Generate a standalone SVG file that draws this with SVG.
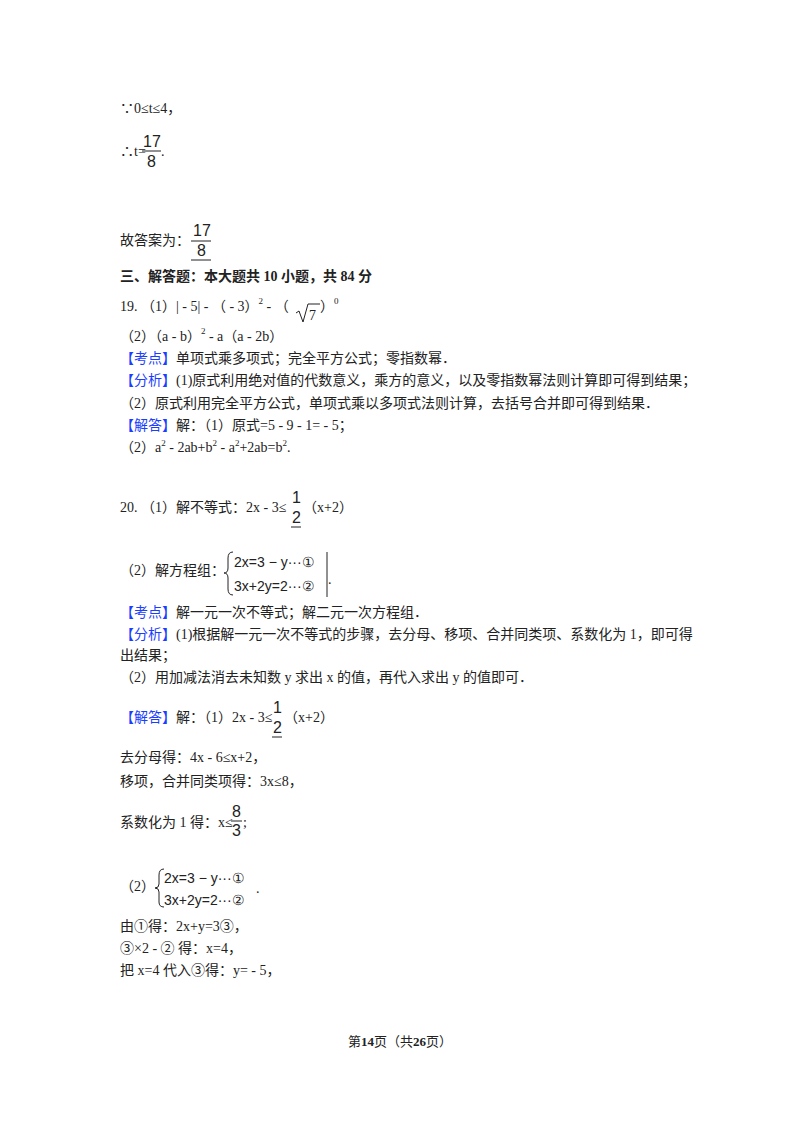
<svg xmlns="http://www.w3.org/2000/svg" width="800" height="1132" viewBox="0 0 800 1132">
<style>
text{font-family:"Liberation Serif","Noto Sans CJK SC",serif;font-size:14px;fill:#222}
.b{font-weight:bold}
.k{fill:#1a3dff}
.s{font-size:9px}
.f{font-size:16px;font-family:"Liberation Sans","Noto Sans CJK SC",sans-serif}
.e{font-family:"Liberation Sans",sans-serif;font-size:14px}
line,path{stroke:#222;fill:none}
</style>
<rect width="800" height="1132" fill="#fff"/>
<g id="top">
<text x="120" y="113">∵0≤t≤4，</text>
<text x="120" y="156">∴t=</text>
<text class="f" x="143" y="147">17</text>
<line x1="142" y1="151" x2="161" y2="151"/>
<text class="f" x="147" y="167">8</text>
<text x="161" y="156">.</text>
<text x="120" y="245">故答案为：</text>
<text class="f" x="193" y="236">17</text>
<line x1="191" y1="241" x2="211" y2="241"/>
<text class="f" x="197" y="256">8</text>
<line x1="191" y1="260" x2="211" y2="260"/>
</g>
<g id="q19">
<text class="b" x="120" y="281">三、解答题：本大题共 10 小题，共 84 分</text>
<text x="120" y="311">19. （1）| - 5| - （ - 3）<tspan class="s" dy="-7">2</tspan><tspan dy="7"> - （</tspan></text>
<path d="M296 313 L299 311 L303 322 L308 304 L320 304"/>
<text x="309" y="320">7</text>
<text x="320" y="311">）<tspan class="s" dy="-7">0</tspan></text>
<text x="120" y="341">（2）（a - b）<tspan class="s" dy="-7">2</tspan><tspan dy="7"> - a（a - 2b）</tspan></text>
<text x="120" y="363"><tspan class="k">【考点】</tspan>单项式乘多项式；完全平方公式；零指数幂．</text>
<text x="120" y="385"><tspan class="k">【分析】</tspan>(1)原式利用绝对值的代数意义，乘方的意义，以及零指数幂法则计算即可得到结果；</text>
<text x="120" y="408">（2）原式利用完全平方公式，单项式乘以多项式法则计算，去括号合并即可得到结果．</text>
<text x="120" y="430"><tspan class="k">【解答】</tspan>解：（1）原式=5 - 9 - 1= - 5；</text>
<text x="120" y="452">（2）a<tspan class="s" dy="-6">2</tspan><tspan dy="6"> - 2ab+b</tspan><tspan class="s" dy="-6">2</tspan><tspan dy="6"> - a</tspan><tspan class="s" dy="-6">2</tspan><tspan dy="6">+2ab=b</tspan><tspan class="s" dy="-6">2</tspan><tspan dy="6">.</tspan></text>
</g>
<g id="q20">
<text x="120" y="512">20. （1）解不等式：2x - 3≤</text>
<text class="f" x="292" y="503">1</text>
<text class="f" x="292" y="523">2</text>
<line x1="291" y1="527" x2="301" y2="527"/>
<text x="303" y="512">（x+2）</text>
<text x="120" y="575">（2）解方程组：</text>
<path d="M233 552 Q228 552 228 558 L228 568 Q228 573 224 573 Q228 573 228 578 L228 589 Q228 595 233 595"/>
<text class="e" x="234" y="567">2x=3 − y···①</text>
<text class="e" x="234" y="591">3x+2y=2···②</text>
<line x1="327" y1="552" x2="327" y2="597"/>
<text x="328" y="584">.</text>
<text x="120" y="617"><tspan class="k">【考点】</tspan>解一元一次不等式；解二元一次方程组．</text>
<text x="120" y="639"><tspan class="k">【分析】</tspan>(1)根据解一元一次不等式的步骤，去分母、移项、合并同类项、系数化为 1，即可得</text>
<text x="120" y="660">出结果；</text>
<text x="120" y="682">（2）用加减法消去未知数 y 求出 x 的值，再代入求出 y 的值即可．</text>
<text x="120" y="722"><tspan class="k">【解答】</tspan>解：（1）2x - 3≤</text>
<text class="f" x="273" y="713">1</text>
<text class="f" x="273" y="733">2</text>
<line x1="272" y1="737" x2="282" y2="737"/>
<text x="284" y="722">（x+2）</text>
<text x="120" y="762">去分母得：4x - 6≤x+2，</text>
<text x="120" y="786">移项，合并同类项得：3x≤8，</text>
<text x="120" y="827">系数化为 1 得：x≤</text>
<text class="f" x="232" y="817">8</text>
<line x1="231" y1="821" x2="242" y2="821"/>
<text class="f" x="232" y="836">3</text>
<text x="243" y="827">;</text>
<text x="120" y="891">（2）</text>
<path d="M164 869 Q159 869 159 875 L159 884 Q159 888 155 888 Q159 888 159 892 L159 902 Q159 907 164 907"/>
<text class="e" x="164" y="883">2x=3 − y···①</text>
<text class="e" x="164" y="905">3x+2y=2···②</text>
<text x="256" y="893">.</text>
<text x="120" y="931">由①得：2x+y=3③，</text>
<text x="120" y="953">③×2 - ② 得：x=4，</text>
<text x="120" y="975">把 x=4 代入③得：y= - 5，</text>
</g>
<g id="footer">
<text x="400" y="1046" text-anchor="middle" style="font-size:13px">第<tspan class="b">14</tspan>页（共<tspan class="b">26</tspan>页）</text>
</g>
</svg>
